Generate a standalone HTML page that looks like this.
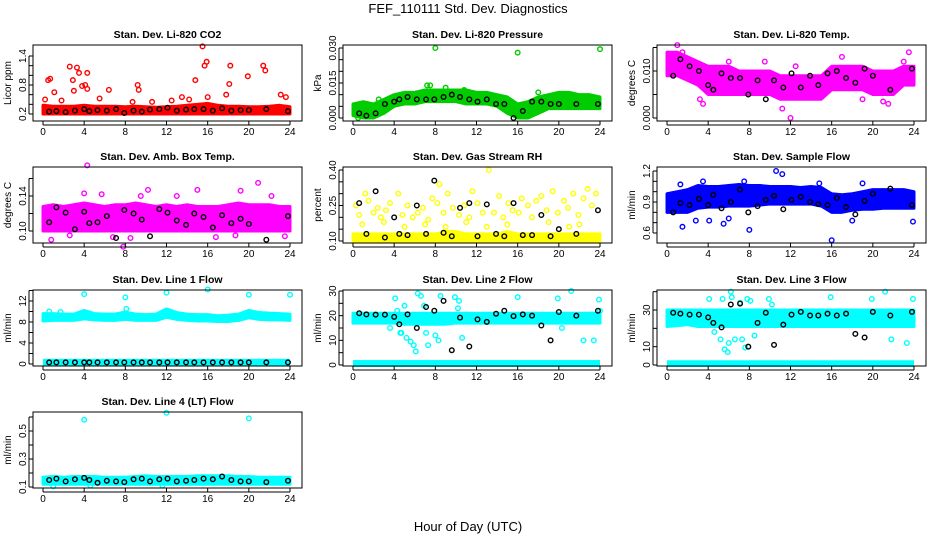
<!DOCTYPE html>
<html><head><meta charset="utf-8"><style>
body{margin:0;background:#fff;}
svg{display:block;font-family:"Liberation Sans",Arial,sans-serif;}
</style></head><body>
<svg id="c" width="936" height="540" viewBox="0 0 936 540">
<text x="468" y="13" font-size="13" text-anchor="middle">FEF_110111  Std. Dev. Diagnostics</text>
<text x="468" y="531" font-size="13" text-anchor="middle">Hour of Day (UTC)</text>
</svg>
<script>
const hours=[0,1,2,3,4,5,6,7,8,9,10,11,12,13,14,15,16,17,18,19,20,21,22,23,24];
const blackX=[0.6,1.3,2.2,3.1,4.0,4.5,5.3,6.2,7.1,7.9,8.8,9.6,10.4,11.3,12.1,13.0,13.9,14.7,15.6,16.5,17.4,18.3,19.2,20.0,21.7,23.8];
const xTicks=[0,4,8,12,16,20,24];

const co2Lo=[0.2,0.2,0.2,0.2,0.2,0.2,0.2,0.2,0.2,0.2,0.2,0.2,0.2,0.2,0.2,0.2,0.2,0.2,0.2,0.2,0.2,0.2,0.2,0.2,0.2];
const co2Hi=[0.38,0.36,0.36,0.36,0.38,0.36,0.36,0.36,0.35,0.36,0.35,0.34,0.35,0.36,0.38,0.4,0.42,0.38,0.36,0.36,0.35,0.35,0.36,0.38,0.35];
const co2OutX=[0.5,0.7,1.1,2.6,2.9,3.0,3.3,3.5,3.8,4.3,4.1,4.3,6.4,9.2,9.3,14.8,15.5,15.7,15.9,18.1,18.2,19.9,21.4,21.6,23.1,23.6,8.7,10.6,13.5,16.0,17.8,0.2,1.8,5.5,12.5,14.2];
const co2OutY=[0.9,0.93,0.65,1.18,0.9,0.68,1.16,1.05,0.78,1.05,0.8,0.72,0.7,0.8,0.7,0.9,1.6,1.2,1.28,0.82,1.2,0.98,1.2,1.1,0.6,0.55,0.45,0.45,0.55,0.55,0.6,0.5,0.48,0.52,0.48,0.5];
const co2Black=[0.25,0.26,0.24,0.27,0.3,0.26,0.28,0.27,0.3,0.22,0.27,0.25,0.29,0.3,0.33,0.27,0.29,0.3,0.3,0.27,0.32,0.27,0.28,0.28,0.3,0.26];

const presLo=[0.001,0,0,0.002,0.005,0.006,0.006,0.007,0.007,0.007,0.007,0.006,0.006,0.006,0.005,0.002,0,0,0.002,0.004,0.004,0.004,0.004,0.004,0.004];
const presHi=[0.006,0.007,0.006,0.008,0.01,0.011,0.011,0.012,0.012,0.012,0.012,0.012,0.011,0.011,0.01,0.009,0.006,0.007,0.009,0.01,0.011,0.011,0.01,0.01,0.009];
const presOutX=[8,16,24,7.2,7.5,9,10.8,18,0.5,2.5];
const presOutY=[0.030,0.028,0.0295,0.014,0.014,0.013,0.012,0.011,0.0,0.008];
const presBlack=[0.002,0.001,0.002,0.006,0.007,0.008,0.009,0.008,0.008,0.008,0.009,0.01,0.009,0.008,0.007,0.008,0.006,0.006,0,0.003,0.007,0.007,0.006,0.006,0.006,0.006];

const tempLo=[0.009,0.009,0.008,0.007,0.005,0.005,0.005,0.005,0.005,0.005,0.005,0.004,0.004,0.004,0.004,0.004,0.006,0.006,0.006,0.006,0.005,0.005,0.005,0.007,0.007];
const tempHi=[0.014,0.014,0.013,0.012,0.011,0.011,0.011,0.01,0.01,0.01,0.01,0.009,0.009,0.009,0.009,0.009,0.011,0.011,0.011,0.011,0.01,0.01,0.01,0.011,0.011];
const tempOutX=[1.0,1.5,3.2,6.0,9.5,11.2,12.0,12.5,17.0,19.0,21.0,21.5,23.0,23.5,3.5];
const tempOutY=[0.0155,0.014,0.004,0.012,0.012,0.002,0.0,0.011,0.013,0.004,0.0035,0.003,0.012,0.014,0.003];
const tempBlack=[0.009,0.0125,0.011,0.01,0.007,0.006,0.0095,0.0085,0.0085,0.005,0.008,0.004,0.008,0.0065,0.0095,0.0065,0.009,0.007,0.0095,0.01,0.0085,0.0075,0.0105,0.009,0.006,0.0105];

const ambLo=[0.1,0.1,0.1,0.1,0.1,0.1,0.1,0.1,0.1,0.1,0.1,0.1,0.1,0.1,0.1,0.1,0.1,0.1,0.1,0.1,0.1,0.1,0.1,0.1,0.1];
const ambHi=[0.128,0.13,0.128,0.13,0.132,0.13,0.128,0.13,0.13,0.132,0.13,0.128,0.13,0.128,0.13,0.128,0.128,0.128,0.13,0.132,0.13,0.13,0.13,0.128,0.128];
const ambOutX=[4.3,20.9,7.8,15.0,10.2,19.2,4.0,5.7,9.5,13.0,22.2,0.8,2.6,6.8,8.5,16.8,18.7,23.5];
const ambOutY=[0.175,0.155,0.082,0.147,0.147,0.146,0.143,0.142,0.14,0.14,0.14,0.09,0.095,0.093,0.092,0.093,0.095,0.094];
const ambBlack=[0.11,0.127,0.121,0.102,0.122,0.109,0.11,0.117,0.092,0.124,0.12,0.113,0.094,0.125,0.121,0.112,0.107,0.12,0.116,0.104,0.118,0.109,0.114,0.108,0.09,0.117];

const rhLo=[0.1,0.1,0.1,0.1,0.1,0.1,0.1,0.1,0.1,0.1,0.1,0.1,0.1,0.1,0.1,0.1,0.1,0.1,0.1,0.1,0.1,0.1,0.1,0.1,0.1];
const rhHi=[0.13,0.13,0.13,0.13,0.13,0.13,0.13,0.13,0.13,0.14,0.14,0.13,0.13,0.13,0.13,0.14,0.13,0.13,0.13,0.13,0.13,0.13,0.13,0.13,0.13];
const rhOutX=[0.3,0.6,1.2,1.5,2.0,2.4,2.7,3.2,3.6,4.4,4.8,5.3,5.8,6.3,6.8,7.3,7.7,8.2,8.4,8.8,9.2,9.7,10.3,10.8,11.3,11.6,12.1,12.6,13.2,13.7,14.2,14.6,15.1,15.5,16.1,16.4,17.0,17.4,17.8,18.3,18.8,19.4,19.9,20.5,20.9,21.4,21.9,22.4,22.8,23.2,23.6,0.9,3.0,5.0,7.0,9.0,11.0,13.0,15.0,19.0,21.0,22.0];
const rhOutY=[0.25,0.21,0.3,0.27,0.22,0.24,0.2,0.23,0.26,0.3,0.21,0.25,0.2,0.22,0.24,0.19,0.28,0.26,0.34,0.22,0.3,0.24,0.21,0.25,0.2,0.31,0.26,0.22,0.4,0.22,0.29,0.2,0.26,0.23,0.22,0.28,0.25,0.2,0.27,0.29,0.23,0.31,0.22,0.27,0.24,0.3,0.21,0.28,0.32,0.25,0.3,0.17,0.18,0.16,0.17,0.16,0.18,0.16,0.17,0.18,0.16,0.17];
const rhBlack=[0.26,0.13,0.31,0.115,0.2,0.13,0.125,0.25,0.13,0.355,0.135,0.12,0.24,0.26,0.12,0.255,0.13,0.12,0.26,0.125,0.125,0.21,0.12,0.15,0.13,0.23];

const flowLo=[0.8,0.8,0.8,0.84,0.85,0.85,0.86,0.86,0.86,0.87,0.88,0.88,0.88,0.88,0.88,0.86,0.8,0.8,0.82,0.83,0.83,0.84,0.84,0.84,0.84];
const flowHi=[0.98,1.0,1.02,1.06,1.05,1.05,1.06,1.07,1.06,1.06,1.05,1.05,1.05,1.04,1.05,1.04,0.98,0.97,0.98,1.0,1.02,1.02,1.02,1.02,1.0];
const flowOutX=[1.3,1.5,4.1,8,10.6,11.2,16,23.9,2.8,5.5,3.5,7.5,6.0,14.8,19.0,18.0];
const flowOutY=[1.07,0.66,0.72,0.63,1.2,1.17,0.53,0.71,0.72,0.69,1.1,1.1,0.74,1.08,1.08,0.72];
const flowBlack=[0.8,0.89,0.87,0.93,0.87,0.97,0.84,0.9,1.02,0.8,0.86,0.92,0.96,0.83,0.92,0.95,0.9,0.88,0.87,0.94,0.85,0.78,0.91,0.98,1.03,0.87];

const l1Lo=[8.2,8.3,8.3,8.3,8.6,8.4,8.3,8.3,8.5,8.3,8.3,8.3,8.9,8.5,8.3,8.2,8.2,8.1,8.1,8.3,8.8,8.5,8.4,8.4,8.3];
const l1Hi=[9.6,9.6,9.5,9.5,10.2,9.6,9.5,9.5,9.9,9.5,9.4,9.5,10.5,9.8,9.5,9.4,9.4,9.2,9.3,9.5,10.2,9.8,9.7,9.6,9.5];
const l1OutX=[4,8,12,16,20,24,0.6,1.7,8.1];
const l1OutY=[13.3,12.7,13.6,14.2,13.2,13.2,10,9.9,10.5];
const l1Black=[0.3,0.3,0.3,0.3,0.3,0.3,0.3,0.3,0.3,0.3,0.3,0.3,0.3,0.3,0.3,0.3,0.3,0.3,0.3,0.3,0.3,0.3,0.3,0.3,0.3,0.3];

const l2Lo=[17,17,17,17,17,16.5,16.5,16.5,16.5,16.5,17,17,17,17,17,17,17,17,17,17,17,17,17,17,17];
const l2Hi=[21,21,21,21,21,21,21,21,21,21,21,21,21,21,21,21,21,21,21,21,21,21,21,21,21];
const l2OutX=[4.1,4.3,4.6,5.0,5.2,5.6,5.9,6.1,6.3,6.6,6.9,7.1,7.3,3.6,8.3,8.5,9.9,10.2,10.3,10.6,16.0,19.9,20.3,21.2,22.4,23.4,23.9,24,4.7,8.0];
const l2OutY=[27,22,13,24,11,9.5,8,5.5,29,28,24,13,8,15,10,28,27.5,23,26,11,27.5,27,15,30,10,10,26.5,22,13,12];
const l2Black=[21,20.5,20.4,20.4,19.5,16.5,20.5,15,23.5,22,26,6,19.2,7.5,18.5,17.5,20.8,22,19.8,20.5,20,16,10,21.5,20,22];

const l3Lo=[21,21.5,22,21,21,21,21,21,21,21,21,21,21,21,21,21,21,21,21,21,21,21,21,21,21];
const l3Hi=[30,30,30,30,30,30,30,30,30,30,30,30,30,30,30,30,30,30,30,30,30,30,30,30,30];
const l3OutX=[4.1,4.6,5.2,5.6,5.9,6.0,6.2,6.3,6.6,7.3,7.6,7.8,8.1,8.5,9.9,10.2,12.0,15.9,19.9,20.1,21.2,21.8,23.3,23.9,5.4,7.1];
const l3OutY=[36,18,14,8.5,7,12,40,37,14,14,9.5,36,35,16,36,33,25,37,36,29,40,14,12,36,36,34];
const l3Black=[28.5,28,27.5,27.5,26,23,20.5,33,33.5,10,23,28.5,11,22,27.5,29,27,27,28,27,28,17,15,29,27,29];

const l4Lo=[0.12,0.12,0.12,0.12,0.12,0.12,0.12,0.12,0.12,0.12,0.12,0.12,0.12,0.12,0.12,0.12,0.12,0.12,0.12,0.12,0.12,0.12,0.12,0.12,0.12];
const l4Hi=[0.17,0.175,0.17,0.175,0.175,0.175,0.17,0.17,0.17,0.175,0.18,0.175,0.175,0.175,0.175,0.18,0.18,0.18,0.18,0.175,0.175,0.17,0.17,0.17,0.17];
const l4OutX=[4,12,20,1.0,4.6,11.6];
const l4OutY=[0.58,0.63,0.59,0.105,0.11,0.11];
const l4Black=[0.15,0.16,0.14,0.155,0.165,0.15,0.13,0.145,0.14,0.135,0.155,0.16,0.14,0.155,0.16,0.14,0.145,0.15,0.16,0.155,0.175,0.15,0.14,0.14,0.135,0.145];

const NS='http://www.w3.org/2000/svg';
const svg=document.getElementById('c');
function mk(tag,attrs,parent){const e=document.createElementNS(NS,tag);for(const k in attrs)e.setAttribute(k,attrs[k]);(parent||svg).appendChild(e);return e;}

const colX=[33,343,657];
const rowT=[45,167,290,412];
const BW=269,BH=76;

const panels=[
 {name:'co2',title:'Stan. Dev. Li-820 CO2',ylab:'Licor ppm',c:0,r:0,color:'#ff0000',v1:0.2,p1:69,v2:1.4,p2:11,ticks:[0.2,0.4,0.6,0.8,1.0,1.2,1.4],labels:['0.2','','','0.8','','','1.4'],lo:co2Lo,hi:co2Hi,ox:co2OutX,oy:co2OutY,bk:co2Black},
 {name:'pressure',title:'Stan. Dev. Li-820 Pressure',ylab:'kPa',c:1,r:0,color:'#00cc00',v1:0,p1:73,v2:0.03,p2:3,ticks:[0,0.005,0.01,0.015,0.02,0.025,0.03],labels:['0.000','','','0.015','','','0.030'],lo:presLo,hi:presHi,ox:presOutX,oy:presOutY,bk:presBlack},
 {name:'li820-temp',title:'Stan. Dev. Li-820 Temp.',ylab:'degrees C',c:2,r:0,color:'#ff00ff',v1:0,p1:73,v2:0.01,p2:26,ticks:[0,0.005,0.01,0.015],labels:['0.000','','0.010',''],lo:tempLo,hi:tempHi,ox:tempOutX,oy:tempOutY,bk:tempBlack},
 {name:'amb-box-temp',title:'Stan. Dev. Amb. Box Temp.',ylab:'degrees C',c:0,r:1,color:'#ff00ff',v1:0.1,p1:64,v2:0.14,p2:29,ticks:[0.1,0.12,0.14,0.16],labels:['0.10','','0.14',''],lo:ambLo,hi:ambHi,ox:ambOutX,oy:ambOutY,bk:ambBlack},
 {name:'gas-stream-rh',title:'Stan. Dev. Gas Stream RH',ylab:'percent',c:1,r:1,color:'#ffff00',v1:0.1,p1:74,v2:0.4,p2:3,ticks:[0.1,0.15,0.2,0.25,0.3,0.35,0.4],labels:['0.10','','','0.25','','','0.40'],lo:rhLo,hi:rhHi,ox:rhOutX,oy:rhOutY,bk:rhBlack},
 {name:'sample-flow',title:'Stan. Dev. Sample Flow',ylab:'ml/min',c:2,r:1,color:'#0000ff',v1:0.6,p1:66,v2:1.2,p2:4,ticks:[0.6,0.7,0.8,0.9,1.0,1.1,1.2],labels:['0.6','','','0.9','','','1.2'],lo:flowLo,hi:flowHi,ox:flowOutX,oy:flowOutY,bk:flowBlack},
 {name:'line1-flow',title:'Stan. Dev. Line 1 Flow',ylab:'ml/min',c:0,r:2,color:'#00ffff',v1:0,p1:74,v2:12,p2:11,ticks:[0,2,4,6,8,10,12,14],labels:['0','','4','','8','','12',''],lo:l1Lo,hi:l1Hi,ox:l1OutX,oy:l1OutY,bk:l1Black,floor:[0,0.6]},
 {name:'line2-flow',title:'Stan. Dev. Line 2 Flow',ylab:'ml/min',c:1,r:2,color:'#00ffff',v1:0,p1:75,v2:30,p2:1,ticks:[0,5,10,15,20,25,30],labels:['0','','10','','20','','30'],lo:l2Lo,hi:l2Hi,ox:l2OutX,oy:l2OutY,bk:l2Black,floor:[0,1.2]},
 {name:'line3-flow',title:'Stan. Dev. Line 3 Flow',ylab:'ml/min',c:2,r:2,color:'#00ffff',v1:0,p1:75,v2:30,p2:20,ticks:[0,10,20,30,40],labels:['0','10','','30',''],lo:l3Lo,hi:l3Hi,ox:l3OutX,oy:l3OutY,bk:l3Black,floor:[0,1.5]},
 {name:'line4-flow',title:'Stan. Dev. Line 4 (LT) Flow',ylab:'ml/min',c:0,r:3,color:'#00ffff',v1:0.1,p1:75,v2:0.5,p2:19,ticks:[0.1,0.2,0.3,0.4,0.5,0.6],labels:['0.1','','0.3','','0.5',''],lo:l4Lo,hi:l4Hi,ox:l4OutX,oy:l4OutY,bk:l4Black}
];

panels.forEach(p=>{
 const X0=colX[p.c],T=rowT[p.r];
 const g=mk('g',{});
 
 
 const xs=h=>X0+10+h*(247/24);
 const ys=v=>T+p.p1+(v-p.v1)*(p.p2-p.p1)/(p.v2-p.v1);
 const t=mk('text',{x:X0+BW/2,y:T-7,'font-size':'10.5','font-weight':'bold','text-anchor':'middle'},g);
 t.textContent=p.title;
 
 
 let pts=hours.map((h,i)=>xs(h)+','+ys(p.hi[i]));
 pts=pts.concat(hours.slice().reverse().map((h,j)=>{const i=hours.length-1-j;return xs(h)+','+ys(p.lo[i]);}));
 const band=mk('polygon',{points:pts.join(' '),fill:p.color,stroke:p.color,'stroke-width':3,'stroke-linejoin':'round'},g);
 
 
 if(p.floor){
  const fl=mk('rect',{x:xs(0),y:ys(p.floor[1])-2,width:xs(24)-xs(0),height:ys(p.floor[0])-ys(p.floor[1])+4,fill:p.color},g);
  
  
 }
 p.ox.forEach((x,i)=>{
  const c=mk('circle',{cx:xs(x),cy:ys(p.oy[i]),r:2.3,fill:'none',stroke:p.color,'stroke-width':1.4},g);
  
  
 });
 blackX.forEach((x,i)=>{
  const c=mk('circle',{cx:xs(x),cy:ys(p.bk[i]),r:2.3,fill:'none',stroke:'#000','stroke-width':1.4},g);
  
  
 });
 const box=mk('rect',{x:X0,y:T,width:BW,height:BH,fill:'none',stroke:'#000','stroke-width':1},g);
 
 
 xTicks.forEach(h=>{
  mk('line',{x1:xs(h),x2:xs(h),y1:T+BH,y2:T+BH+4,stroke:'#000'},g);
  const l=mk('text',{x:xs(h),y:T+BH+14,'font-size':'10','text-anchor':'middle'},g);
  l.textContent=h;
  
  
 });
 mk('line',{x1:xs(0),x2:xs(24),y1:T+BH+4,y2:T+BH+4,stroke:'#000'},g);
 p.ticks.forEach((v,i)=>{
  const y=ys(v);
  mk('line',{x1:X0-4,x2:X0,y1:y,y2:y,stroke:'#000'},g);
  if(p.labels[i]){
   const l=mk('text',{x:X0-7,y:y,'font-size':'10','text-anchor':'middle',transform:'rotate(-90 '+(X0-7)+' '+y+')'},g);
   l.textContent=p.labels[i];
   
   
  }
 });
 const y0=ys(p.ticks[0]),y1=ys(p.ticks[p.ticks.length-1]);
 mk('line',{x1:X0-4,x2:X0-4,y1:y0,y2:y1,stroke:'#000'},g);
 const yl=mk('text',{x:X0-22,y:T+BH/2,'font-size':'10','text-anchor':'middle',transform:'rotate(-90 '+(X0-22)+' '+(T+BH/2)+')'},g);
 yl.textContent=p.ylab;
 
 
});
</script>
</body></html>
